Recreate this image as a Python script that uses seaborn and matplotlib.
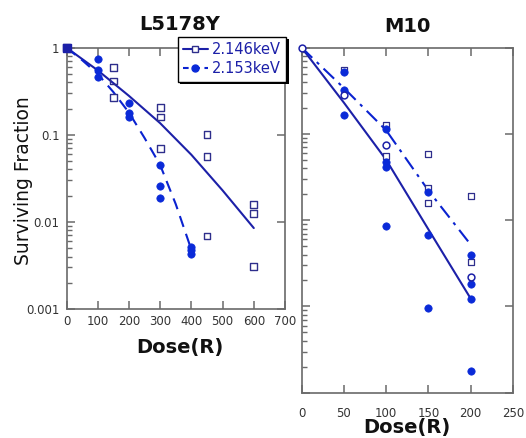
import numpy as np
import matplotlib
matplotlib.use("Agg")
import matplotlib.pyplot as plt
from matplotlib.lines import Line2D
from matplotlib.patches import Rectangle
from matplotlib.ticker import FixedLocator, FixedFormatter, LogLocator, NullFormatter
import seaborn as sns

sns.set_style("ticks")
plt.rcParams['font.family'] = ['DejaVu Sans']

# ---------------- data: L5178Y ----------------
L_sq_dose = [0, 150, 150, 150, 300, 300, 300, 450, 450, 450, 600, 600, 600]
L_sq_sf = [1, 0.59, 0.415, 0.267, 0.205, 0.16, 0.07, 0.1, 0.056, 0.0069, 0.016, 0.0126, 0.0031]
L_ci_dose = [100, 100, 100, 200, 200, 200, 300, 300, 300, 400, 400, 400]
L_ci_sf = [0.75, 0.56, 0.46, 0.234, 0.177, 0.158, 0.045, 0.0256, 0.0187, 0.0051, 0.0047, 0.0043]
L_fit146_dose = [0, 100, 200, 300, 400, 500, 600]
L_fit146_sf = [1, 0.55, 0.28, 0.136, 0.059, 0.023, 0.0085]
L_fit153_dose = [0, 50, 100, 150, 200, 250, 300, 350, 400]
L_fit153_sf = [1, 0.72, 0.5, 0.31, 0.18, 0.092, 0.045, 0.016, 0.0048]

# ---------------- data: M10 ----------------
M_sq_dose = [50, 100, 100, 150, 150, 150, 200, 200]
M_sq_sf = [0.55, 0.127, 0.056, 0.058, 0.0235, 0.0158, 0.019, 0.0033]
M_ci_dose = [50, 50, 50, 100, 100, 100, 100, 150, 150, 150, 200, 200, 200, 200]
M_ci_sf = [0.52, 0.32, 0.165, 0.113, 0.047, 0.041, 0.0085, 0.021, 0.0068, 0.00096,
           0.0040, 0.0018, 0.00123, 0.00018]
M_oc_dose = [0, 50, 100, 200]
M_oc_sf = [1, 0.28, 0.075, 0.0022]
M_fitA_dose = [0, 50, 100, 150, 200]
M_fitA_sf = [1, 0.23, 0.05, 0.0078, 0.00123]
M_fitB_dose = [0, 50, 100, 150, 200]
M_fitB_sf = [1, 0.34, 0.11, 0.022, 0.0052]

legend_labels = ["2.146keV", "2.153keV"]
titles = ["L5178Y", "M10"]
L_xticks = [0, 100, 200, 300, 400, 500, 600, 700]
M_xticks = [0, 50, 100, 150, 200, 250]
L_yticks = [1, 0.1, 0.01, 0.001]
L_yticklabels = ["1", "0.1", "0.01", "0.001"]

C_SOLID = "#1c20a8"
C_DASH = "#0a22d0"
C_FILL = "#0a2ad8"
C_SQ = "#2e2e8c"
C_SPINE = "#6a6a6a"

W, H = 526, 438
fig = plt.figure(figsize=(W / 100, H / 100), dpi=100)

def fax(x0, y0, x1, y1):
    return fig.add_axes([x0 / W, 1 - y1 / H, (x1 - x0) / W, (y1 - y0) / H])

axL = fax(66.5, 47.7, 285, 309)
axR = fax(301.7, 47.7, 513, 392.7)

def style(ax, xlim, ylim, xticks, pad):
    ax.set_yscale("log")
    ax.set_xlim(*xlim)
    ax.set_ylim(*ylim)
    ax.set_xticks(xticks)
    for s in ax.spines.values():
        s.set_visible(True)
        s.set_color(C_SPINE)
        s.set_linewidth(1.2)
    ax.tick_params(axis="both", which="major", direction="in", length=5.5, width=1.1,
                   color=C_SPINE, top=True, right=True, labelsize=8.5, labelcolor="#333333")
    ax.tick_params(axis="x", which="major", pad=pad)
    ax.yaxis.set_minor_locator(LogLocator(base=10, subs=np.arange(2, 10)))
    ax.yaxis.set_minor_formatter(NullFormatter())
    ax.tick_params(axis="y", which="minor", direction="in", length=3.5, width=1.0,
                   color=C_SPINE, left=True, right=False)
    ax.set_xlabel("")
    ax.set_ylabel("")
    ax.set_facecolor("white")

# ---------- Left panel ----------
sns.lineplot(x=L_fit146_dose, y=L_fit146_sf, ax=axL, color=C_SOLID, lw=1.5)
sns.lineplot(x=L_fit153_dose, y=L_fit153_sf, ax=axL, color=C_DASH, lw=1.5)
axL.lines[-1].set_dashes([5.5, 3.5])
sns.scatterplot(x=L_sq_dose, y=L_sq_sf, ax=axL, marker="s", s=24, facecolor="none",
                edgecolor=C_SQ, linewidth=1.0, clip_on=False, zorder=4)
sns.scatterplot(x=L_ci_dose, y=L_ci_sf, ax=axL, marker="o", s=28, color=C_FILL,
                edgecolor=C_FILL, linewidth=0.5, clip_on=False, zorder=4)
axL.scatter([0], [1], marker="s", s=30, color=C_SOLID, clip_on=False, zorder=5)
style(axL, (0, 700), (0.001, 1), L_xticks, 4.5)
axL.yaxis.set_major_locator(FixedLocator(L_yticks))
axL.yaxis.set_major_formatter(FixedFormatter(L_yticklabels))
axL.tick_params(axis="y", which="major", pad=5)

# ---------- Right panel ----------
sns.lineplot(x=M_fitA_dose, y=M_fitA_sf, ax=axR, color=C_SOLID, lw=1.5)
sns.lineplot(x=M_fitB_dose, y=M_fitB_sf, ax=axR, color=C_DASH, lw=1.5)
axR.lines[-1].set_dashes([7, 3, 1.5, 3])
sns.scatterplot(x=M_sq_dose, y=M_sq_sf, ax=axR, marker="s", s=16, facecolor="white",
                edgecolor=C_SQ, linewidth=0.9, clip_on=False, zorder=4)
sns.scatterplot(x=M_ci_dose, y=M_ci_sf, ax=axR, marker="o", s=28, color=C_FILL,
                edgecolor=C_FILL, linewidth=0.5, clip_on=False, zorder=4)
sns.scatterplot(x=M_oc_dose, y=M_oc_sf, ax=axR, marker="o", s=24, facecolor="white",
                edgecolor=C_SOLID, linewidth=1.1, clip_on=False, zorder=5)
style(axR, (0, 250), (0.0001, 1), M_xticks, 10)
axR.yaxis.set_major_locator(FixedLocator([1, 0.1, 0.01, 0.001, 0.0001]))
axR.yaxis.set_major_formatter(NullFormatter())

# ---------- Texts ----------
fig.text(180 / W, 1 - 24 / H, titles[0], ha="center", va="center", fontsize=14,
         fontweight="bold", color="#111111")
fig.text(407 / W, 1 - 27 / H, titles[1], ha="center", va="center", fontsize=14,
         fontweight="bold", color="#111111")
fig.text(24 / W, 1 - 181 / H, "Surviving Fraction", rotation=90, ha="center",
         va="center", fontsize=13.5, color="#111111")
fig.text(180 / W, 1 - 348 / H, "Dose(R)", ha="center", va="center", fontsize=14,
         fontweight="bold", color="#111111")
fig.text(407 / W, 1 - 428 / H, "Dose(R)", ha="center", va="center", fontsize=14,
         fontweight="bold", color="#111111")

# ---------- Legend ----------
handles = [
    Line2D([], [], color=C_SOLID, lw=1.5, marker="s", markersize=5,
           markerfacecolor="white", markeredgecolor=C_SQ),
    Line2D([], [], color=C_DASH, lw=1.5, ls=(0.5, (3.2, 2.2)), marker="o", markersize=5,
           markerfacecolor=C_FILL, markeredgecolor=C_FILL),
]
leg = fig.legend(handles, legend_labels, loc="upper right",
                 bbox_to_anchor=(286 / W, 1 - 37 / H), bbox_transform=fig.transFigure,
                 fontsize=10.5, frameon=True, fancybox=False, framealpha=1,
                 edgecolor="black", handlelength=1.7, handletextpad=0.3,
                 borderpad=0.35, labelspacing=0.3, borderaxespad=0)
leg.get_frame().set_linewidth(1.0)
for t in leg.get_texts():
    t.set_color(C_SOLID)
leg.set_zorder(10)

fig.canvas.draw()
bb = leg.get_frame().get_window_extent()
shadow = Rectangle((bb.x0 + 2.5, bb.y0 - 2.5), bb.width, bb.height, transform=None,
                   facecolor="black", edgecolor="none", zorder=9)
fig.patches.append(shadow)

fig.savefig("out.png", dpi=100, facecolor="white")
